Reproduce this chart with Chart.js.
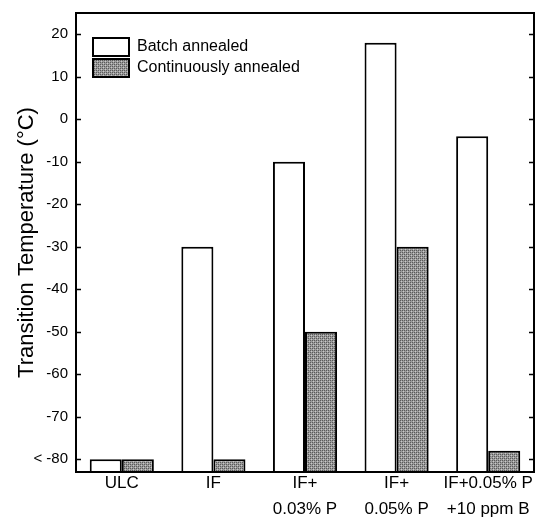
<!DOCTYPE html>
<html>
<head>
<meta charset="utf-8">
<script src="https://cdn.jsdelivr.net/npm/chart.js@4"></script>
<style>
  html, body { margin: 0; padding: 0; background: #fff; }
  #wrap { width: 539px; height: 519px; }
</style>
</head>
<body>
<div id="wrap"><canvas id="app-canvas"></canvas></div>
<script>
// data
var categories = ["ULC", "IF", ["IF+", "0.03% P"], ["IF+", "0.05% P"], ["IF+0.05% P", "+10 ppm B"]];
var batchValues = [-80, -30, -10, 18, -4];
var contValues = [-80, -80, -50, -30, -78];
var seriesNames = ["Batch annealed", "Continuously annealed"];
var yTicks = [20, 10, 0, -10, -20, -30, -40, -50, -60, -70, -80];
var yMin = -83;
var yMax = 25;

var fontFam = "'Liberation Sans', Arial, sans-serif";

// grey dither pattern for the continuous bars
function makePattern() {
  var c = document.createElement("canvas");
  c.width = 4; c.height = 4;
  var p = c.getContext("2d");
  p.fillStyle = "#9a9a9a";
  p.fillRect(0, 0, 4, 4);
  p.fillStyle = "#5a5a5a";
  p.fillRect(0, 0, 1, 1); p.fillRect(2, 2, 1, 1);
  p.fillRect(2, 0, 1, 1); p.fillRect(0, 2, 1, 1);
  p.fillStyle = "#c8c8c8";
  p.fillRect(1, 1, 1, 1); p.fillRect(3, 3, 1, 1);
  return p.createPattern(c, "repeat");
}
var greyFill = makePattern();

// frame, inner ticks and legend
var framePlugin = {
  id: "frame",
  afterDraw: function(chart) {
    var ctx = chart.ctx;
    var a = chart.chartArea;
    var y = chart.scales.y;
    ctx.save();
    ctx.strokeStyle = "#000";
    ctx.lineWidth = 2;
    ctx.strokeRect(a.left, a.top, a.right - a.left, a.bottom - a.top);
    ctx.lineWidth = 1.5;
    yTicks.forEach(function(t) {
      var py = Math.round(y.getPixelForValue(t)) + 0.5;
      ctx.beginPath();
      ctx.moveTo(a.left, py); ctx.lineTo(a.left + 5, py);
      ctx.moveTo(a.right, py); ctx.lineTo(a.right - 5, py);
      ctx.stroke();
    });
    // legend
    var fills = ["#fff", greyFill];
    var lx = a.left + 17, ly = a.top + 34;
    ctx.font = "16px " + fontFam;
    ctx.textBaseline = "middle";
    chart.data.datasets.forEach(function(ds, i) {
      var by = ly + i * 21;
      ctx.fillStyle = fills[i];
      ctx.fillRect(lx, by - 9, 36, 18);
      ctx.lineWidth = 2;
      ctx.strokeStyle = "#000";
      ctx.strokeRect(lx, by - 9, 36, 18);
      ctx.fillStyle = "#000";
      ctx.fillText(ds.label, lx + 44, by);
    });
    ctx.restore();
  }
};

var chartCtx = document.getElementById("app-canvas");
var myChart = new Chart(chartCtx, {
  type: "bar",
  data: {
    labels: categories,
    datasets: [
      {
        label: seriesNames[0],
        data: batchValues,
        backgroundColor: "#fff",
        borderColor: "#000",
        borderWidth: 2,
        base: yMin
      },
      {
        label: seriesNames[1],
        data: contValues,
        backgroundColor: greyFill,
        borderColor: "#000",
        borderWidth: 2,
        base: yMin
      }
    ]
  },
  options: {
    responsive: true,
    maintainAspectRatio: false,
    animation: false,
    layout: { padding: { left: 14, right: 5, top: 13, bottom: 0 } },
    datasets: { bar: { barPercentage: 1, categoryPercentage: 0.7 } },
    plugins: { legend: { display: false }, tooltip: { enabled: false } },
    scales: {
      x: {
        grid: { display: false, drawTicks: false },
        border: { display: false },
        afterFit: function(s) { s.height = 47; },
        ticks: {
          color: "#000",
          padding: -1,
          autoSkip: false,
          maxRotation: 0,
          font: { family: fontFam, size: 17, lineHeight: 1.5 }
        }
      },
      y: {
        min: yMin,
        max: yMax,
        grid: { display: false, drawTicks: false },
        border: { display: false },
        afterBuildTicks: function(s) {
          s.ticks = yTicks.map(function(v) { return { value: v }; });
        },
        afterFit: function(s) {
          s.width = 62;
          s.paddingTop = 0;
          s.paddingBottom = 0;
        },
        ticks: {
          color: "#000",
          padding: 8,
          font: { family: fontFam, size: 15 },
          callback: function(v) { return v === -80 ? "< -80" : v; }
        },
        title: {
          display: true,
          text: "Transition Temperature (°C)",
          color: "#000",
          padding: 0,
          font: { family: fontFam, size: 22 }
        }
      }
    }
  },
  plugins: [framePlugin]
});
</script>
</body>
</html>
